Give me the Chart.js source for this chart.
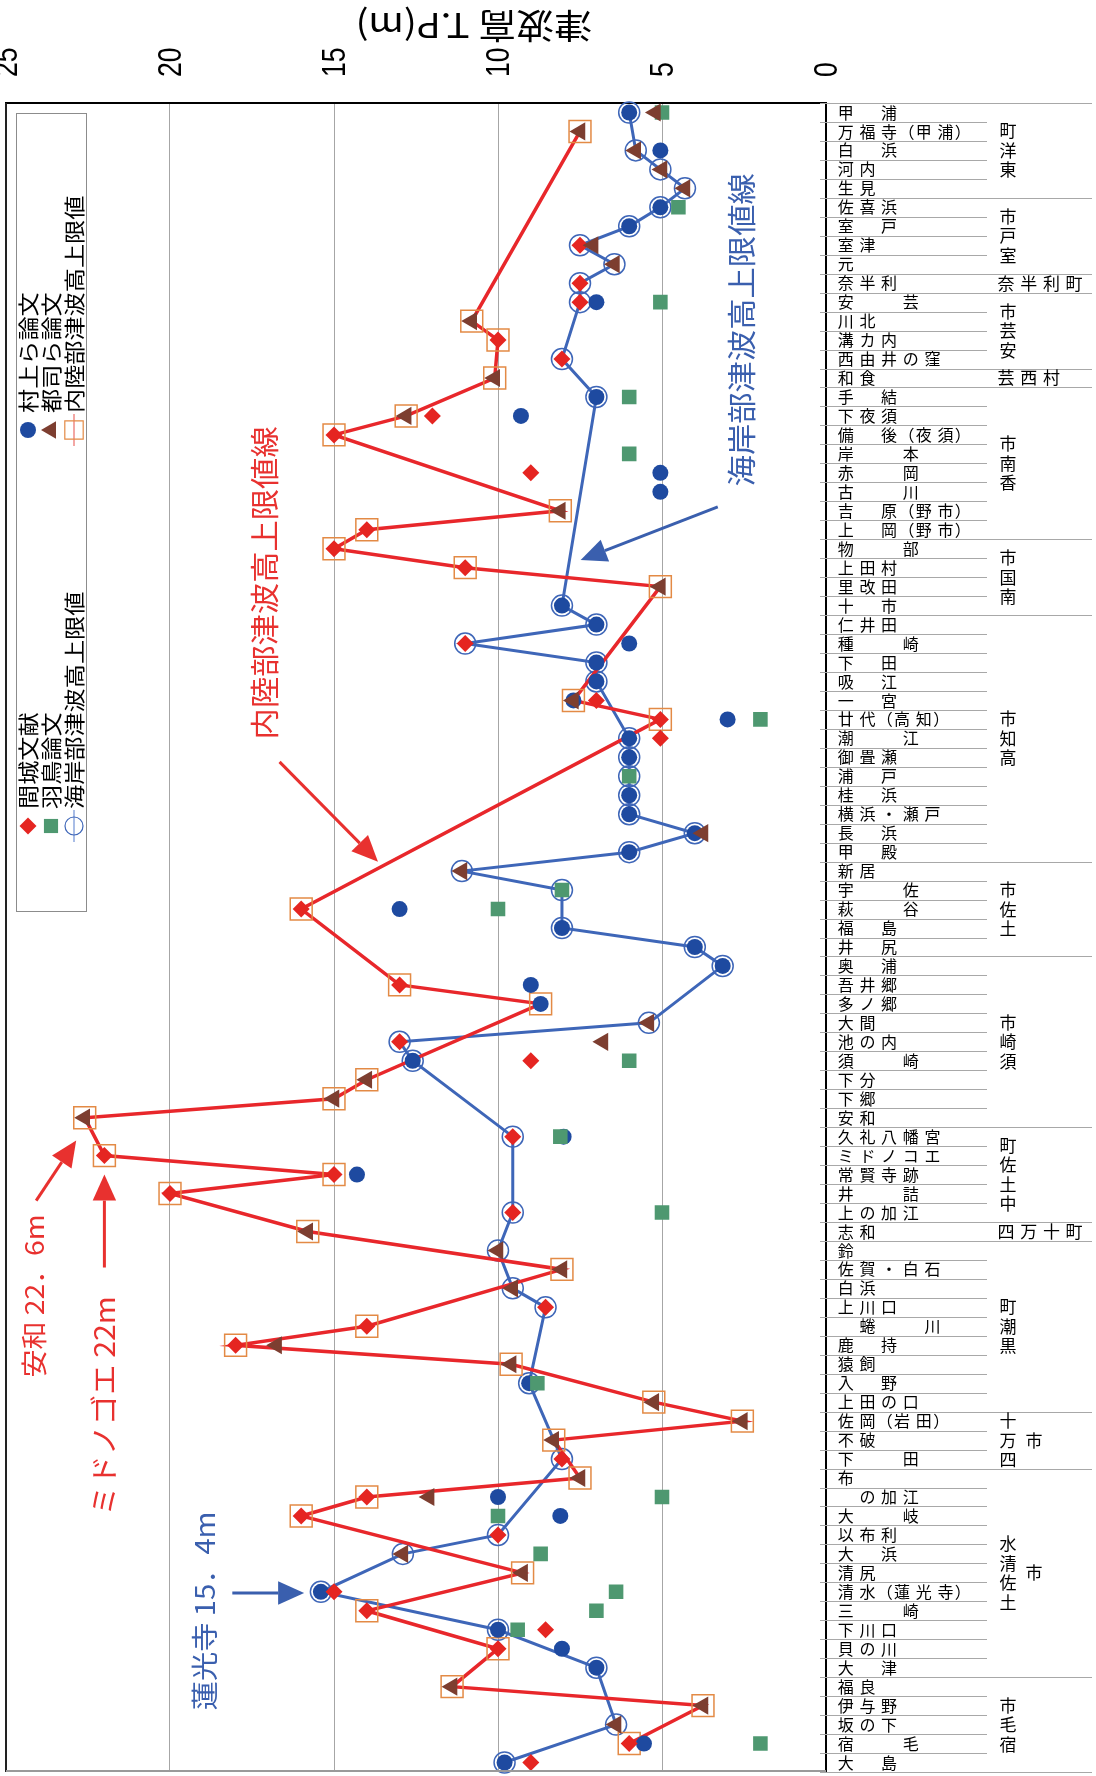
<!DOCTYPE html>
<html lang="ja">
<head>
<meta charset="utf-8">
<title>津波高 T.P(m)</title>
<script src="https://cdn.jsdelivr.net/npm/chart.js@4.4.1/dist/chart.umd.min.js"></script>
<style>
  html, body { margin: 0; padding: 0; background: #fff; }
  #wrap { position: relative; width: 1096px; height: 1776px; }
</style>
</head>
<body>
<div id="wrap"><canvas id="chart"></canvas></div>
<script>
const _ = null;

// places, top to bottom ("　" = empty column in the label grid)
const categories = [
  '甲　浦', '万福寺（甲浦）', '白　浜', '河内', '生見',
  '佐喜浜', '室　戸', '室津', '元',
  '奈半利',
  '安　　芸', '川北', '溝カ内', '西由井の窪',
  '和食',
  '手　結', '下夜須', '備　後（夜須）', '岸　　本', '赤　　岡', '古　　川', '吉　原（野市）', '上　岡（野市）',
  '物　　部', '上田村', '里改田', '十　市',
  '仁井田', '種　　崎', '下　田', '吸　江', '一　宮', '廿代（高知）', '潮　　江', '御畳瀬', '浦　戸', '桂　浜', '横浜・瀬戸', '長　浜', '甲　殿',
  '新居', '宇　　佐', '萩　　谷', '福　島', '井　尻',
  '奥　浦', '吾井郷', '多ノ郷', '大間', '池の内', '須　　崎', '下分', '下郷', '安和',
  '久礼八幡宮', 'ミドノコエ', '常賢寺跡', '井　　詰', '上の加江',
  '志和',
  '鈴', '佐賀・白石', '白浜', '上川口', '　蜷　　川', '鹿　持', '猿飼', '入　野', '上田の口',
  '佐岡（岩田）', '不破', '下　　田',
  '布', '　の加江', '大　　岐', '以布利', '大　浜', '清尻', '清水（蓮光寺）', '三　　崎', '下川口', '貝の川', '大　津',
  '福良', '伊与野', '坂の下', '宿　　毛', '大　島'
];

// municipalities ("|" = column break) and how many places each holds
const groupNames = ['東洋町', '室戸市', '奈半利町', '安芸市', '芸西村', '香南市', '南国市', '高知市',
  '土佐市', '須崎市', '中土佐町', '四万十町', '黒潮町', '四万十|市', '土佐清水|市', '宿毛市'];
const groupSizes = [5, 4, 1, 4, 1, 8, 4, 13, 5, 9, 5, 1, 9, 3, 11, 5];

// tsunami height T.P.(m), one value per place
const majo = [ // 間城文献
  _, _, _, _, _, _, _, 7.5, _, 7.5,
  7.5, _, 10.0, 8.05, _, _, 12.0, 15.0, _, 9.0,
  _, _, 14.0, 15.0, 11.0, _, _, _, 11.0, _,
  _, 7.0, 5.05, 5.05, _, _, _, _, _, _,
  _, _, 16.0, _, _, _, 13.0, _, _, 13.0,
  9.0, _, _, _, 9.55, 22.0, 15.0, 20.0, 9.55, _,
  _, _, _, 8.55, 14.0, 18.0, _, _, _, _,
  _, 8.05, _, 14.0, 16.0, 10.0, _, _, 15.0, 14.0,
  8.55, 10.0, _, _, _, _, 6.0, 9.0
];
const hatori = [ // 羽鳥論文
  5.0, _, _, _, _, 4.5, _, _, _, _,
  5.05, _, _, _, _, 6.0, _, _, 6.0, _,
  _, _, _, _, _, _, _, _, _, _,
  _, _, 2.0, _, _, 6.0, _, _, _, _,
  _, 8.05, 10.0, _, _, _, _, _, _, _,
  6.0, _, _, _, 8.1, _, _, _, 5.0, _,
  _, _, _, _, _, _, _, 8.8, _, _,
  _, _, _, 5.0, 10.0, _, 8.7, _, 6.4, 7.0,
  9.4, _, _, _, _, _, 2.0, _
];
const coastal = [ // 海岸部津波高上限値
  6.0, _, 5.8, 5.05, 4.3, 5.05, 6.0, 7.5, 6.45, 7.5,
  7.5, _, _, 8.05, _, 7.0, _, _, _, _,
  _, _, _, _, _, _, 8.05, 7.0, 11.0, 7.0,
  7.0, _, _, 6.0, 6.0, 6.0, 6.0, 6.0, 4.0, 6.0,
  11.1, 8.05, _, 8.05, 4.0, 3.15, _, _, 5.4, 13.0,
  12.6, _, _, _, 9.55, _, _, _, 9.55, _,
  10.0, _, 9.55, 8.55, _, _, _, 9.05, _, _,
  _, 8.05, _, _, _, 10.0, 12.9, _, 15.4, _,
  10.0, _, 7.0, _, _, 6.4, _, 9.8
];
const murakami = [ // 村上ら論文
  6.0, _, 5.05, _, _, 5.05, 6.0, _, _, _,
  7.0, _, _, _, _, 7.0, 9.3, _, _, 5.05,
  5.05, _, _, _, _, _, 8.05, 7.0, 6.0, 7.0,
  7.0, 7.7, 3.0, 6.0, 6.0, _, 6.0, 6.0, 4.0, 6.0,
  _, _, 13.0, 8.05, 4.0, 3.15, 9.0, 8.7, _, _,
  12.6, _, _, _, 8.0, _, 14.3, _, _, _,
  _, _, _, _, _, _, _, 9.05, _, _,
  _, _, _, 10.0, 8.1, _, _, _, 15.4, _,
  10.0, 8.05, 7.0, _, _, _, 5.55, 9.8
];
const tsuji = [ // 都司ら論文
  5.2, 7.5, 5.8, 5.0, 4.3, _, _, 7.1, 6.45, _,
  _, 10.8, _, _, 10.1, _, 12.8, _, _, _,
  _, 8.1, _, _, _, 5.05, _, _, _, _,
  _, 7.7, _, _, _, _, _, _, 3.75, _,
  11.1, _, _, _, _, _, _, _, 5.4, 6.8,
  _, 14.0, 15.0, 22.6, _, _, _, _, _, 15.8,
  10.0, 8.05, 9.55, _, _, 16.75, 9.6, _, 5.25, 2.55,
  8.3, _, 7.5, 12.1, _, _, 12.9, 9.25, _, _,
  _, _, _, 11.4, 3.75, 6.4, _, _
];
const inland = [ // 内陸部津波高上限値
  _, 7.5, _, _, _, _, _, _, _, _,
  _, 10.8, 10.0, _, 10.1, _, 12.8, 15.0, _, _,
  _, 8.1, 14.0, 15.0, 11.0, 5.05, _, _, _, _,
  _, 7.7, 5.05, _, _, _, _, _, _, _,
  _, _, 16.0, _, _, _, 13.0, 8.7, _, _,
  _, 14.0, 15.0, 22.6, _, 22.0, 15.0, 20.0, _, 15.8,
  _, 8.05, _, _, 14.0, 18.0, 9.6, _, 5.25, 2.55,
  8.3, _, 7.5, 14.0, 16.0, _, _, 9.25, _, 14.0,
  _, 10.0, _, 11.4, 3.75, _, 6.0, _
];

// callouts in chart units: [height, place index]
const notes = [
  { text: '海岸部津波高上限値線', color: '#3a5fae', size: 29, at: [2.56, 11.46], from: [3.3, 20.8], to: [7.48, 23.6] },
  { text: '内陸部津波高上限値線', color: '#e8312f', size: 29, at: [17.1, 24.8], from: [16.66, 34.24], to: [13.66, 39.5] },
  { text: '安和 22．6m', color: '#e8312f', size: 26, at: [24.15, 62.4], from: [24.08, 57.37], to: [22.86, 54.2] },
  { text: 'ミドノゴエ 22m', color: '#e8312f', size: 28, at: [22.0, 68.2], from: [22.0, 60.9], to: [22.0, 56.0] },
  { text: '蓮光寺 15．4m', color: '#3a5fae', size: 27, at: [18.93, 79.0], from: [18.1, 78.06], to: [15.91, 78.06] }
];

const JP = '"Noto Sans CJK JP", "Noto Sans", sans-serif';
const RED = '#e52521';
const RED_LINE = '#e8272b';
const ORANGE = '#e38a45';
const GREEN = '#4e9870';
const NAVY = '#1e4aa0';
const BLUE_LINE = '#3e66b8';
const BROWN = '#7d3e30';

// text turned a quarter turn left, reading bottom to top
function upText(ctx, str, x, y, font, color, align, stretch) {
  ctx.save();
  ctx.translate(x, y);
  ctx.rotate(-Math.PI / 2);
  ctx.scale(stretch || 1, 1);
  ctx.font = font;
  ctx.fillStyle = color;
  ctx.textAlign = align || 'center';
  ctx.textBaseline = 'middle';
  ctx.fillText(str, 0, 0);
  ctx.restore();
}

function arrow(ctx, x1, y1, x2, y2, color, width, head) {
  const a = Math.atan2(y2 - y1, x2 - x1);
  const bx = x2 - head * Math.cos(a), by = y2 - head * Math.sin(a);
  const hw = head * 0.45;
  ctx.strokeStyle = color;
  ctx.fillStyle = color;
  ctx.lineWidth = width;
  ctx.beginPath();
  ctx.moveTo(x1, y1);
  ctx.lineTo(bx, by);
  ctx.stroke();
  ctx.beginPath();
  ctx.moveTo(x2, y2);
  ctx.lineTo(bx + hw * Math.sin(a), by - hw * Math.cos(a));
  ctx.lineTo(bx - hw * Math.sin(a), by + hw * Math.cos(a));
  ctx.closePath();
  ctx.fill();
}

const extras = {
  id: 'extras',
  afterDraw(chart) {
    const { ctx, chartArea: a, scales: { x, y } } = chart;
    const rowH = (a.bottom - a.top) / categories.length;
    ctx.save();

    // value ticks, turned like the rest of the chart
    x.ticks.forEach(t => {
      upText(ctx, String(t.value), x.getPixelForValue(t.value) + 2, a.top - 26,
        '34px "Liberation Sans", Arial, sans-serif', '#000', 'left', 0.78);
    });

    // plot frame, left and bottom
    ctx.strokeStyle = '#222';
    ctx.lineWidth = 2;
    ctx.beginPath(); ctx.moveTo(a.left, a.top); ctx.lineTo(a.left, a.bottom); ctx.stroke();
    ctx.strokeStyle = '#9a9a9a';
    ctx.beginPath(); ctx.moveTo(a.left, a.bottom - 1); ctx.lineTo(a.right, a.bottom - 1); ctx.stroke();

    // row grid of the label table
    const ends = new Set([0]);
    let acc = 0;
    groupSizes.forEach(n => { acc += n; ends.add(acc); });
    ctx.strokeStyle = '#a8a8a8';
    ctx.lineWidth = 1;
    for (let k = 0; k <= categories.length; k++) {
      const yy = Math.round(a.top + k * rowH) + 0.5;
      ctx.beginPath();
      ctx.moveTo(a.right - 6, yy);
      ctx.lineTo(ends.has(k) ? a.right + 266 : a.right + 161, yy);
      ctx.stroke();
    }

    // place names
    ctx.fillStyle = '#000';
    ctx.textAlign = 'center';
    ctx.textBaseline = 'middle';
    ctx.font = '16px ' + JP;
    categories.forEach((lab, i) => {
      const cy = y.getPixelForValue(i);
      let cx = a.right + 19.7, prev = 0;
      [...lab].forEach((ch, j) => {
        const w = '（）'.includes(ch) ? 13 : 21.7;
        if (j > 0) cx += (prev + w) / 2;
        if (ch !== '　') ctx.fillText(ch, cx, cy);
        prev = w;
      });
    });

    // municipalities
    ctx.font = '17px ' + JP;
    let start = 0;
    groupNames.forEach((name, g) => {
      const n = groupSizes[g];
      const mid = a.top + (start + n / 2) * rowH;
      if (n === 1) {
        [...name].forEach((ch, j) => ctx.fillText(ch, a.right + 180 + j * 22.7, mid));
      } else {
        name.split('|').forEach((col, c) => {
          const chars = [...col];
          chars.forEach((ch, j) => {
            ctx.fillText(ch, a.right + 182 + c * 26, mid + ((chars.length - 1) / 2 - j) * 19.5);
          });
        });
      }
      start += n;
    });

    // axis title, upside down
    ctx.save();
    ctx.translate(474, 26);
    ctx.rotate(Math.PI);
    ctx.scale(1.12, 1);
    ctx.font = '34px ' + JP;
    ctx.fillText('津波高 T.P(m)', 0, 0);
    ctx.restore();

    // callouts
    notes.forEach(nt => {
      arrow(ctx, x.getPixelForValue(nt.from[0]), y.getPixelForValue(nt.from[1]),
        x.getPixelForValue(nt.to[0]), y.getPixelForValue(nt.to[1]), nt.color, 3, 26);
      upText(ctx, nt.text, x.getPixelForValue(nt.at[0]), y.getPixelForValue(nt.at[1]),
        nt.size + 'px ' + JP, nt.color, 'center', 1.08);
    });

    // legend, turned like the rest of the chart
    ctx.fillStyle = '#fff';
    ctx.fillRect(16, 113, 70, 798);
    ctx.strokeStyle = '#8c8c8c';
    ctx.lineWidth = 1;
    ctx.strokeRect(16.5, 113.5, 70, 798);
    const items = [
      { x: 28, y: 826, text: '間城文献', style: { pointStyle: 'rectRot', radius: 8.5, borderWidth: 0 }, fill: RED },
      { x: 51, y: 826, text: '羽鳥論文', style: { pointStyle: 'rect', radius: 10, borderWidth: 0 }, fill: GREEN },
      { x: 74, y: 826, text: '海岸部津波高上限値', style: { pointStyle: 'circle', radius: 9, borderWidth: 1.2 }, fill: 'rgba(0,0,0,0)', stroke: BLUE_LINE, line: '#a9bde6' },
      { x: 28, y: 430, text: '村上ら論文', style: { pointStyle: 'circle', radius: 8, borderWidth: 0 }, fill: NAVY },
      { x: 51, y: 430, text: '都司ら論文', style: { pointStyle: 'triangle', radius: 10, rotation: -90, borderWidth: 0 }, fill: BROWN },
      { x: 74, y: 430, text: '内陸部津波高上限値', style: { pointStyle: 'rect', radius: 13, borderWidth: 1.2 }, fill: 'rgba(0,0,0,0)', stroke: ORANGE, line: '#f3a7a4' }
    ];
    items.forEach(it => {
      if (it.line) {
        ctx.strokeStyle = it.line;
        ctx.lineWidth = 2;
        ctx.beginPath(); ctx.moveTo(it.x, it.y - 16); ctx.lineTo(it.x, it.y + 16); ctx.stroke();
      }
      ctx.fillStyle = it.fill;
      ctx.strokeStyle = it.stroke || it.fill;
      ctx.lineWidth = it.style.borderWidth;
      Chart.helpers.drawPoint(ctx, it.style, it.x, it.y);
      upText(ctx, it.text, it.x, it.y - 17, '21px ' + JP, '#000', 'left', 1.15);
    });

    ctx.restore();
  }
};

new Chart(document.getElementById('chart'), {
  type: 'line',
  data: {
    labels: categories,
    datasets: [
      { label: '都司ら論文', data: tsuji, showLine: false, pointStyle: 'triangle', pointRotation: -90,
        pointRadius: 10.5, pointBackgroundColor: BROWN, pointBorderWidth: 0, order: 1 },
      { label: '間城文献', data: majo, showLine: false, pointStyle: 'rectRot',
        pointRadius: 8.5, pointBackgroundColor: RED, pointBorderWidth: 0, order: 2 },
      { label: '羽鳥論文', data: hatori, showLine: false, pointStyle: 'rect',
        pointRadius: 10.3, pointBackgroundColor: GREEN, pointBorderWidth: 0, order: 3 },
      { label: '村上ら論文', data: murakami, showLine: false, pointStyle: 'circle',
        pointRadius: 8, pointBackgroundColor: NAVY, pointBorderWidth: 0, order: 4 },
      { label: '内陸部津波高上限値', data: inland, spanGaps: true, borderColor: RED_LINE, borderWidth: 3.5,
        pointStyle: 'rect', pointRadius: 15.5, pointBorderColor: ORANGE, pointBorderWidth: 1.5,
        pointBackgroundColor: 'rgba(0,0,0,0)', order: 5 },
      { label: '海岸部津波高上限値', data: coastal, spanGaps: true, borderColor: BLUE_LINE, borderWidth: 3,
        pointStyle: 'circle', pointRadius: 10.5, pointBorderColor: BLUE_LINE, pointBorderWidth: 1.5,
        pointBackgroundColor: 'rgba(0,0,0,0)', order: 6 }
    ]
  },
  options: {
    indexAxis: 'y',
    responsive: true,
    maintainAspectRatio: false,
    animation: false,
    events: [],
    layout: { autoPadding: false, padding: { top: 40, left: 6, right: 0, bottom: 4 } },
    plugins: {
      legend: { display: false },
      title: { display: false },
      tooltip: { enabled: false }
    },
    scales: {
      x: {
        type: 'linear',
        position: 'top',
        reverse: true,
        min: 0,
        max: 25,
        ticks: { stepSize: 5, display: false },
        grid: { color: '#a6a6a6', lineWidth: 1, drawTicks: false },
        border: { display: true, color: '#000', width: 2 },
        afterFit(scale) {
          scale.paddingLeft = 0;
          scale.paddingRight = 0;
          scale.height = 63;
        }
      },
      y: {
        type: 'category',
        position: 'right',
        offset: true,
        ticks: { display: false },
        grid: { display: false },
        border: { display: true, color: '#000', width: 2 },
        afterFit(scale) {
          scale.width = 270;
        }
      }
    }
  },
  plugins: [extras]
});
</script>
</body>
</html>
